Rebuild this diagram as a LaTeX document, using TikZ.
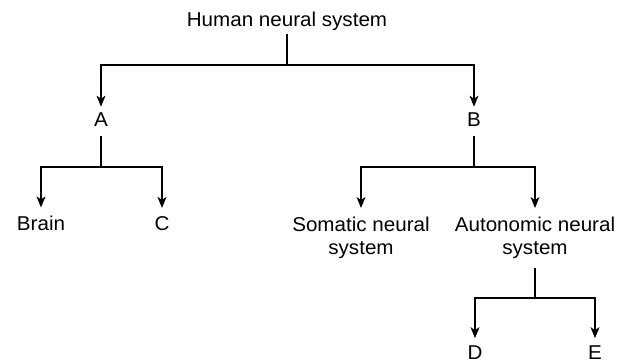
\documentclass[tikz,border=0pt]{standalone}
\usepackage{fontspec}
\setmainfont[FakeStretch=1.03]{Liberation Sans}
\usetikzlibrary{arrows.meta}
\tikzset{>={Stealth[length=11pt, width=9pt, inset=3pt]}}
\tikzset{lbl/.style={inner sep=0pt, font=\fontsize{20}{23}\selectfont, align=center}}

\begin{document}
\begin{tikzpicture}[x=1pt, y=-1pt, line width=1.2pt]
    \useasboundingbox (0, 0) rectangle (629, 363);
    \node[lbl, anchor=base](hns) at (287, 27){Human neural system};
    \node[lbl, anchor=base](A) at (101, 127){A};
    \node[lbl, anchor=base](B) at (474, 127){B};
    \node[lbl, anchor=base](brain) at (41, 231){Brain};
    \node[lbl, anchor=base](C) at (162, 231){C};
    \node[lbl, anchor=north](somatic) at (361, 216.5){Somatic neural\\system};
    \node[lbl, anchor=north](auto) at (535, 216.5){Autonomic neural\\system};
    \node[lbl, anchor=base](D) at (475, 359.5){D};
    \node[lbl, anchor=base](E) at (595, 359.5){E};
    \coordinate (s1) at (287, 65);
    \coordinate (s2) at (101, 167);
    \coordinate (s3) at (474, 167);
    \coordinate (s4) at (535, 298);
    \draw[shorten <=2pt](hns.south)--(s1);
    \draw[->, shorten >=6pt](s1) -| (A.north);
    \draw[->, shorten >=6pt](s1) -| (B.north);
    \draw[shorten <=8pt](A.south)--(s2);
    \draw[->, shorten >=8.5pt](s2) -| (brain.north);
    \draw[->, shorten >=8.5pt](s2) -| (C.north);
    \draw[shorten <=8pt](B.south)--(s3);
    \draw[->, shorten >=8.5pt](s3) -| (somatic.north);
    \draw[->, shorten >=8.5pt](s3) -| (auto.north);
    \draw[shorten <=9pt](auto.south)--(s4);
    \draw[->, shorten >=7pt](s4) -| (D.north);
    \draw[->, shorten >=7pt](s4) -| (E.north);
\end{tikzpicture}
\end{document}
